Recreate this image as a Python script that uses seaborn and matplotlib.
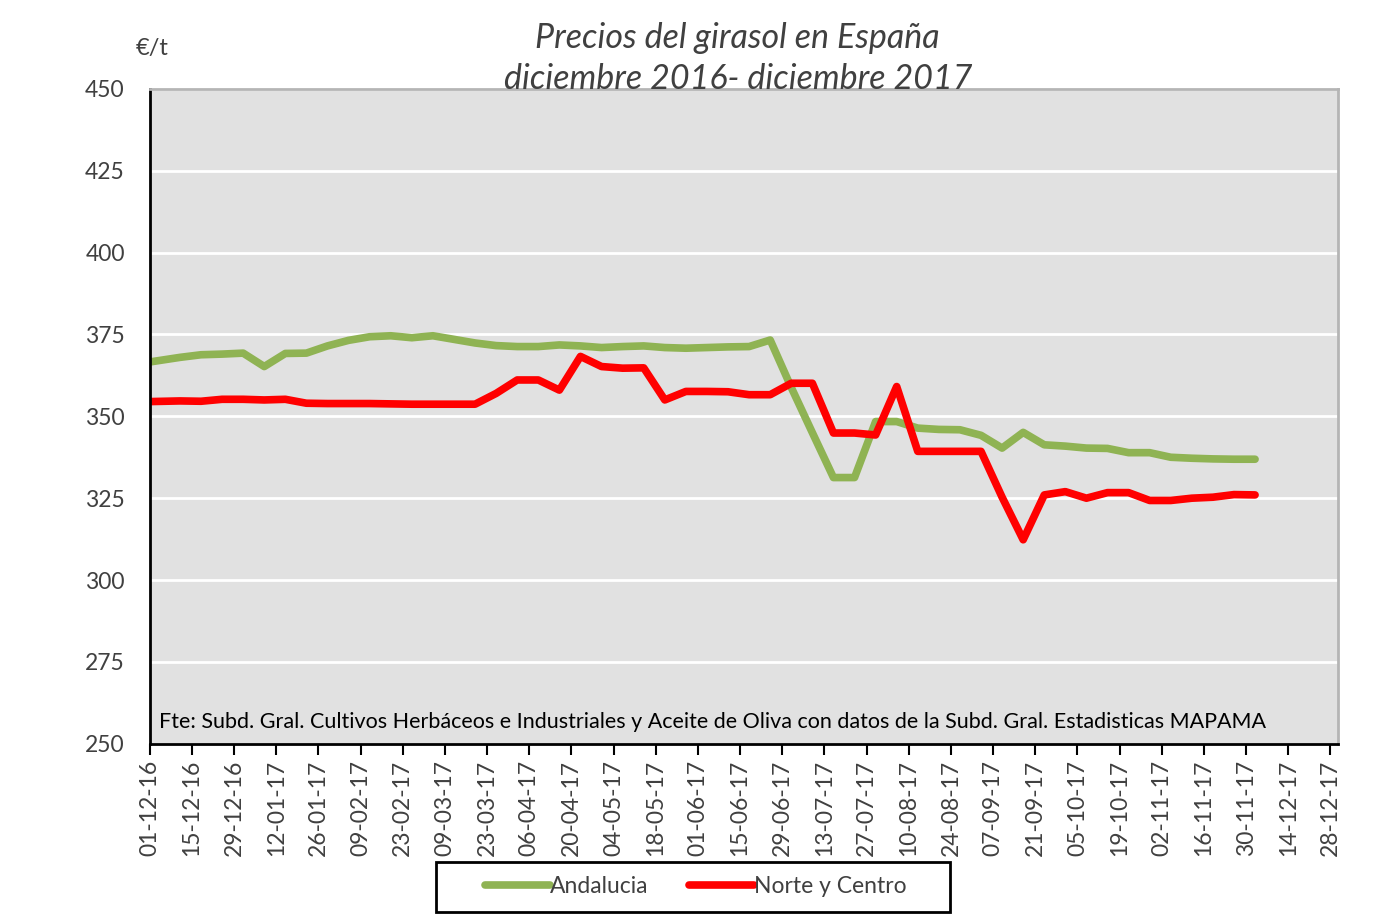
import pandas as pd
import matplotlib.pyplot as plt
import matplotlib.dates as mdates
from matplotlib.patches import Rectangle
import seaborn as sns

# weekly prices (€/t), first point on 01-12-16 then Sundays
fechas = ["2016-12-01"] + [d.strftime("%Y-%m-%d") for d in pd.date_range("2016-12-11", "2017-12-03", freq="7D")]

andalucia = [366.6, 368.0, 368.8, 369.0, 369.3, 365.2, 369.2, 369.3, 371.5, 373.2,
             374.3, 374.6, 374.0, 374.6, 373.5, 372.4, 371.6, 371.3, 371.3, 371.8,
             371.5, 371.0, 371.3, 371.5, 371.0, 370.8, 371.0, 371.2, 371.3, 373.3,
             358.8, 345.0, 331.3, 331.3, 348.4, 348.4, 346.4, 346.0, 345.9, 344.2,
             340.3, 345.1, 341.3, 340.9, 340.3, 340.2, 338.9, 338.9, 337.5, 337.2,
             337.0, 336.9, 336.9]

norte_centro = [354.5, 354.7, 354.6, 355.2, 355.2, 355.0, 355.2, 354.0, 353.9, 353.9,
                353.9, 353.8, 353.7, 353.7, 353.7, 353.7, 357.0, 361.1, 361.1, 358.0,
                368.3, 365.2, 364.7, 364.8, 355.0, 357.6, 357.6, 357.5, 356.6, 356.6,
                360.1, 360.1, 344.9, 344.9, 344.3, 359.1, 339.3, 339.3, 339.3, 339.3,
                325.3, 312.3, 326.0, 327.0, 325.0, 326.7, 326.7, 324.3, 324.3, 325.0,
                325.3, 326.1, 326.0]

series = {"Andalucia": andalucia, "Norte y Centro": norte_centro}
colores = {"Andalucia": "#8fb353", "Norte y Centro": "#ff0000"}

df = pd.concat([pd.DataFrame({"fecha": pd.to_datetime(fechas), "precio": v, "zona": k})
                for k, v in series.items()])

sns.set_style("white")
plt.rcParams["font.family"] = ["Lato", "DejaVu Sans"]

fig = plt.figure(figsize=(14, 9.16), dpi=100)
ax = fig.add_axes([0.107, 0.188, 0.849, 0.715])
ax.set_facecolor("#e1e1e1")

sns.lineplot(data=df, x="fecha", y="precio", hue="zona", palette=colores,
             linewidth=5.5, ax=ax, legend=False)

ax.set_ylim(250, 450)
ax.set_yticks(range(250, 451, 25))
ax.yaxis.grid(True, color="white", linewidth=2)
ax.set_axisbelow(True)
ax.set_xlim(pd.Timestamp("2016-12-01"), pd.Timestamp("2017-12-30 16:00"))
ax.set_xticks(pd.date_range("2016-12-01", "2017-12-28", freq="14D"))
ax.xaxis.set_major_formatter(mdates.DateFormatter("%d-%m-%y"))
ax.tick_params(axis="x", direction="out", length=8, width=1.5, color="black",
               labelrotation=90, labelsize=16.5, labelcolor="#404040", bottom=True)
ax.tick_params(axis="y", length=0, labelsize=16.5, labelcolor="#404040", pad=18)
ax.set_xlabel("")
ax.set_ylabel("")

for s in ["left", "bottom"]:
    ax.spines[s].set_color("black")
    ax.spines[s].set_linewidth(2)
for s in ["top", "right"]:
    ax.spines[s].set_color("#b5b5b5")
    ax.spines[s].set_linewidth(2)

fig.text(0.527, 0.936, "Precios del girasol en España\ndiciembre 2016- diciembre 2017",
         ha="center", va="center", fontsize=24.5, style="italic", color="#404040",
         linespacing=1.35)
fig.text(0.097, 0.947, "€/t", fontsize=17, color="#404040", va="center")

ax.text(0.008, 0.034, "Fte: Subd. Gral. Cultivos Herbáceos e Industriales y Aceite de Oliva "
        "con datos de la Subd. Gral. Estadisticas MAPAMA",
        transform=ax.transAxes, fontsize=15.5, color="black", va="center")

# legend box below the plot
fig.patches.append(Rectangle((0.3114, 0.0044), 0.3672, 0.0546, transform=fig.transFigure,
                             facecolor="white", edgecolor="black", linewidth=2))
handles = [plt.Line2D([], [], color=colores[k], linewidth=5.5) for k in series]
leg = fig.legend(handles, list(series), loc="center", bbox_to_anchor=(0.497, 0.032),
                 ncol=2, fontsize=16.5, frameon=False, handlelength=2.85,
                 handletextpad=0.0, columnspacing=1.75)
for t in leg.get_texts():
    t.set_color("#404040")

fig.savefig("out.png", dpi=100)
